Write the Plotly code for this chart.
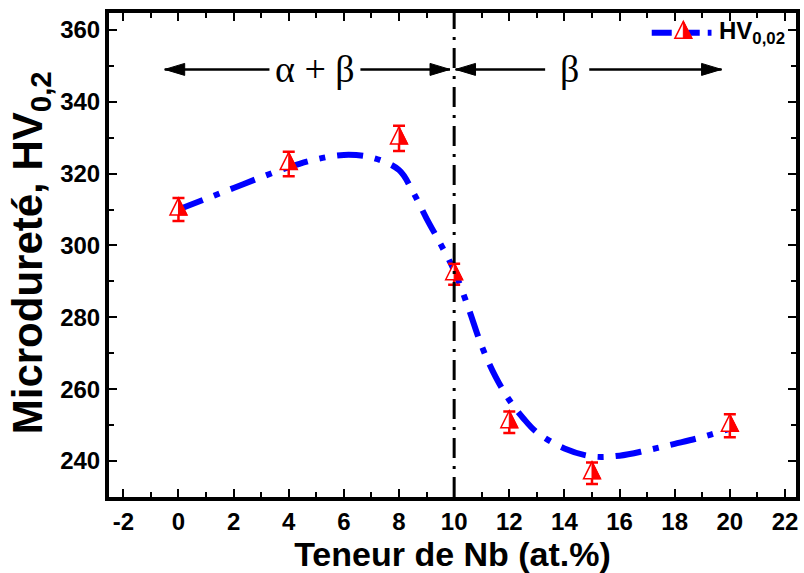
import plotly.graph_objects as go

# ---- data ----
nb_content = [0, 4, 8, 10, 12, 15, 20]
hv_values = [310.0, 322.7, 329.8, 292.0, 250.8, 236.6, 249.8]
hv_errors = [3.2, 3.4, 3.5, 2.9, 3.0, 3.0, 3.2]

fit_x = [0, 1, 2, 3, 4, 5, 6, 7, 8, 8.5, 9, 9.5, 10, 10.5, 11, 11.5, 12, 12.5, 13, 14, 15, 16, 17, 18, 19, 20]
fit_y = [310, 313, 316, 319, 321.8, 324, 325.2, 324.5, 321, 315, 307.5, 300.5, 293, 283, 272, 263.5,
         257, 252, 248, 243.5, 241.3, 241.5, 243, 244.8, 246.7, 249]

boundary_x = 10
x_ticks = list(range(-2, 23, 2))
x_ticklabels = [str(v) for v in x_ticks]
y_ticks = list(range(240, 361, 20))

BOLD = "Liberation Sans, Arial, sans-serif"
SERIF = "Liberation Serif, Times New Roman, serif"
RED = "#ff0000"
BLUE = "#0000ff"

fig = go.Figure()

fig.add_trace(go.Scatter(
    x=fit_x, y=fit_y, mode="lines",
    line=dict(color=BLUE, width=6, dash="26px,12px,6px,12px", shape="spline", smoothing=1.0),
    showlegend=False, hoverinfo="skip",
))

fig.add_trace(go.Scatter(
    x=nb_content, y=hv_values, mode="markers",
    marker=dict(size=1, color="rgba(0,0,0,0)"),
    error_y=dict(type="data", array=hv_errors, color=RED, thickness=2.5, width=6),
    showlegend=False,
))

shapes = []
tri_outline = "M -8.5,-5.5 L 0,11.5 L 8.5,-5.5 Z"
tri_half = "M 0,11.5 L 8.5,-5.5 L 0,-5.5 Z"
for xv, yv in zip(nb_content, hv_values):
    shapes.append(dict(type="path", xref="x", yref="y", xsizemode="pixel", ysizemode="pixel",
                       xanchor=xv, yanchor=yv, path=tri_outline,
                       line=dict(color=RED, width=1.5), fillcolor="white", layer="above"))
    shapes.append(dict(type="path", xref="x", yref="y", xsizemode="pixel", ysizemode="pixel",
                       xanchor=xv, yanchor=yv, path=tri_half,
                       line=dict(color=RED, width=1), fillcolor=RED, layer="above"))

# phase boundary
shapes.append(dict(type="line", xref="x", yref="paper", x0=boundary_x, x1=boundary_x, y0=0, y1=1,
                   line=dict(color="black", width=3, dash="20px,8px,3px,8px"), layer="above"))

# phase-range arrows (line + pixel-sized head)
arrow_y = 349
head_right = "M 0,0 L -20,6 L -20,-6 Z"
head_left = "M 0,0 L 20,6 L 20,-6 Z"
for head, tail in [(-0.5, 3.3), (9.85, 6.6), (10.05, 13.3), (19.7, 14.9)]:
    shapes.append(dict(type="line", xref="x", yref="y", x0=tail, x1=head, y0=arrow_y, y1=arrow_y,
                       line=dict(color="black", width=2.5), layer="above"))
    shapes.append(dict(type="path", xref="x", yref="y", xsizemode="pixel", ysizemode="pixel",
                       xanchor=head, yanchor=arrow_y,
                       path=head_right if head > tail else head_left,
                       line=dict(color="black", width=1), fillcolor="black", layer="above"))

# manual legend
leg_y = 0.959
shapes.append(dict(type="line", xref="paper", yref="paper", x0=0.79, x1=0.877, y0=leg_y, y1=leg_y,
                   line=dict(color=BLUE, width=6, dash="20px,8px"), layer="above"))
shapes.append(dict(type="path", xref="paper", yref="paper", xsizemode="pixel", ysizemode="pixel",
                   xanchor=0.836, yanchor=leg_y, path=tri_outline,
                   line=dict(color=RED, width=1.5), fillcolor="white", layer="above"))
shapes.append(dict(type="path", xref="paper", yref="paper", xsizemode="pixel", ysizemode="pixel",
                   xanchor=0.836, yanchor=leg_y, path=tri_half,
                   line=dict(color=RED, width=1), fillcolor=RED, layer="above"))

annotations = [
    dict(xref="paper", yref="paper", x=0.885, y=leg_y, xanchor="left", yanchor="middle",
         text="<b>HV<sub>0,02</sub></b>", showarrow=False,
         font=dict(family=BOLD, size=24, color="black")),
    dict(x=4.95, y=arrow_y, xref="x", yref="y", text="\u03b1 + \u03b2", showarrow=False,
         font=dict(family=SERIF, size=38, color="black")),
    dict(x=14.2, y=arrow_y, xref="x", yref="y", text="\u03b2", showarrow=False,
         font=dict(family=SERIF, size=38, color="black")),
    dict(xref="paper", yref="paper", x=-0.114, y=0.505, xanchor="center", yanchor="middle",
         textangle=-90, text="<b>Microdureté, HV<sub>0,2</sub></b>", showarrow=False,
         font=dict(family=BOLD, size=42, color="black")),
]

axis_common = dict(
    showline=True, linecolor="black", linewidth=4, mirror="ticks",
    ticks="inside", ticklen=8, tickwidth=2, tickcolor="black",
    showgrid=False, zeroline=False,
    tickfont=dict(family=BOLD, size=24, color="black", weight="bold"),
)

fig.update_layout(
    width=804, height=573,
    margin=dict(l=109, r=4, t=13, b=76),
    paper_bgcolor="white", plot_bgcolor="white",
    shapes=shapes, annotations=annotations,
    xaxis=dict(range=[-2.52, 22.4], tickvals=x_ticks, ticktext=x_ticklabels,
               minor=dict(dtick=1, tick0=0, ticks="inside", ticklen=5, tickwidth=1.5, tickcolor="black"),
               title=dict(text="Teneur de Nb (at.%)", font=dict(family=BOLD, size=34, color="black", weight="bold"),
                          standoff=6),
               **axis_common),
    yaxis=dict(range=[230, 364.7], tickvals=y_ticks,
               minor=dict(dtick=10, tick0=0, ticks="inside", ticklen=5, tickwidth=1.5, tickcolor="black"),
               **axis_common),
)

fig.write_html("out.html")
